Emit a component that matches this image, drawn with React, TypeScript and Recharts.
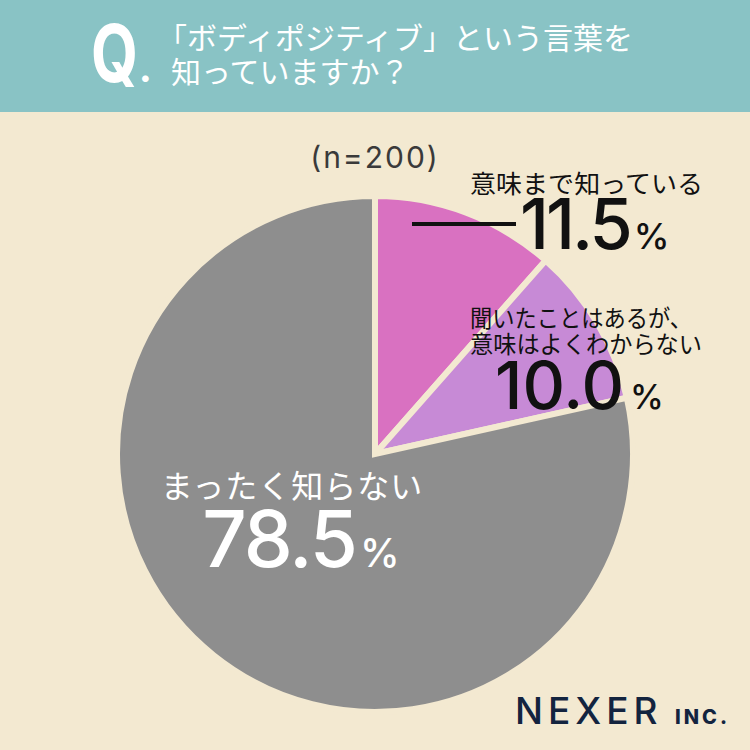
import { PieChart, Pie, Cell } from "recharts";

const CATEGORIES = ["意味まで知っている", "聞いたことはあるが、意味はよくわからない", "まったく知らない"];
const SHARES = [11.5, 10.0, 78.5];
const SLICE_COLORS = ["#D971C1", "#C78AD6", "#8E8E8E"];

const BG = "#F3E9D1";
const TEAL = "#89C3C5";
const JP = '"Noto Sans CJK JP", sans-serif';
const NUM = 'Inter, "Noto Sans", sans-serif';

const data = CATEGORIES.map((name, i) => ({ name, value: SHARES[i] }));

export default function App() {
  return (
    <div style={{ position: "absolute", left: 0, top: 0, width: 750, height: 750, background: BG, overflow: "hidden" }}>
      <div style={{ position: "absolute", left: 0, top: 0, width: 750, height: 112, background: TEAL }} />
      <div style={{ position: "absolute", left: 0, top: 0 }}>
        <PieChart width={750} height={750} margin={{ top: 0, right: 0, bottom: 0, left: 0 }}>
          <Pie
            data={data}
            dataKey="value"
            nameKey="name"
            cx={375}
            cy={454}
            innerRadius={0}
            outerRadius={258}
            startAngle={90}
            endAngle={-270}
            stroke={BG}
            strokeWidth={6}
            isAnimationActive={false}
          >
            {data.map((d, i) => (
              <Cell key={d.name} fill={SLICE_COLORS[i]} />
            ))}
          </Pie>
        </PieChart>
      </div>
      <svg width={750} height={750} style={{ position: "absolute", left: 0, top: 0, pointerEvents: "none" }}>
        {/* header */}
        <text x={91} y={82} fill="#fff" fontFamily={NUM} fontWeight={700} fontSize={80} textLength={47} lengthAdjust="spacingAndGlyphs">Q</text>
        <text x={139} y={82} fill="#fff" fontFamily={NUM} fontWeight={800} fontSize={36}>.</text>
        <text x={157} y={49} fill="#fff" fontFamily={JP} fontSize={30}>「ボディポジティブ」という言葉を</text>
        <text x={171} y={83} fill="#fff" fontFamily={JP} fontSize={30}>知っていますか？</text>

        <text x={375} y={168} textAnchor="middle" fill="#3a3a3a" fontFamily={NUM} fontSize={30} letterSpacing={2}>(n=200)</text>

        {/* 11.5 */}
        <text x={470} y={193} fill="#111" fontFamily={JP} fontSize={25} textLength={233} lengthAdjust="spacingAndGlyphs">{CATEGORIES[0]}</text>
        <line x1={412} y1={224} x2={516} y2={224} stroke="#111" strokeWidth={4} />
        <text x={520} y={249} fill="#111" fontFamily={NUM} fontWeight={500} fontSize={70} letterSpacing={-3}>
          {SHARES[0].toFixed(1)}
          <tspan fontSize={36} dx={4}>%</tspan>
        </text>

        {/* 10.0 */}
        <text x={470} y={327} fill="#111" fontFamily={JP} fontSize={24} textLength={222} lengthAdjust="spacingAndGlyphs">聞いたことはあるが、</text>
        <text x={470} y={353} fill="#111" fontFamily={JP} fontSize={24} textLength={232} lengthAdjust="spacingAndGlyphs">意味はよくわからない</text>
        <text x={495} y={409} fill="#111" fontFamily={NUM} fontWeight={500} fontSize={66} letterSpacing={0}>
          {SHARES[1].toFixed(1)}
          <tspan fontSize={34} dx={6}>%</tspan>
        </text>

        {/* 78.5 */}
        <text x={292} y={498} textAnchor="middle" fill="#fff" fontFamily={JP} fontSize={32} letterSpacing={1}>{CATEGORIES[2]}</text>
        <text x={300} y={567} textAnchor="middle" fill="#fff" fontFamily={NUM} fontWeight={500} fontSize={78} letterSpacing={-2}>
          {SHARES[2].toFixed(1)}
          <tspan fontSize={40} dx={4}>%</tspan>
        </text>

        {/* logo */}
        <text x={515} y={724} fill="#13243F" fontFamily={NUM} fontWeight={500} fontSize={37} letterSpacing={5}>NEXER</text>
        <text x={675} y={724} fill="#13243F" fontFamily={NUM} fontWeight={800} fontSize={20} letterSpacing={3}>INC.</text>
      </svg>
    </div>
  );
}
